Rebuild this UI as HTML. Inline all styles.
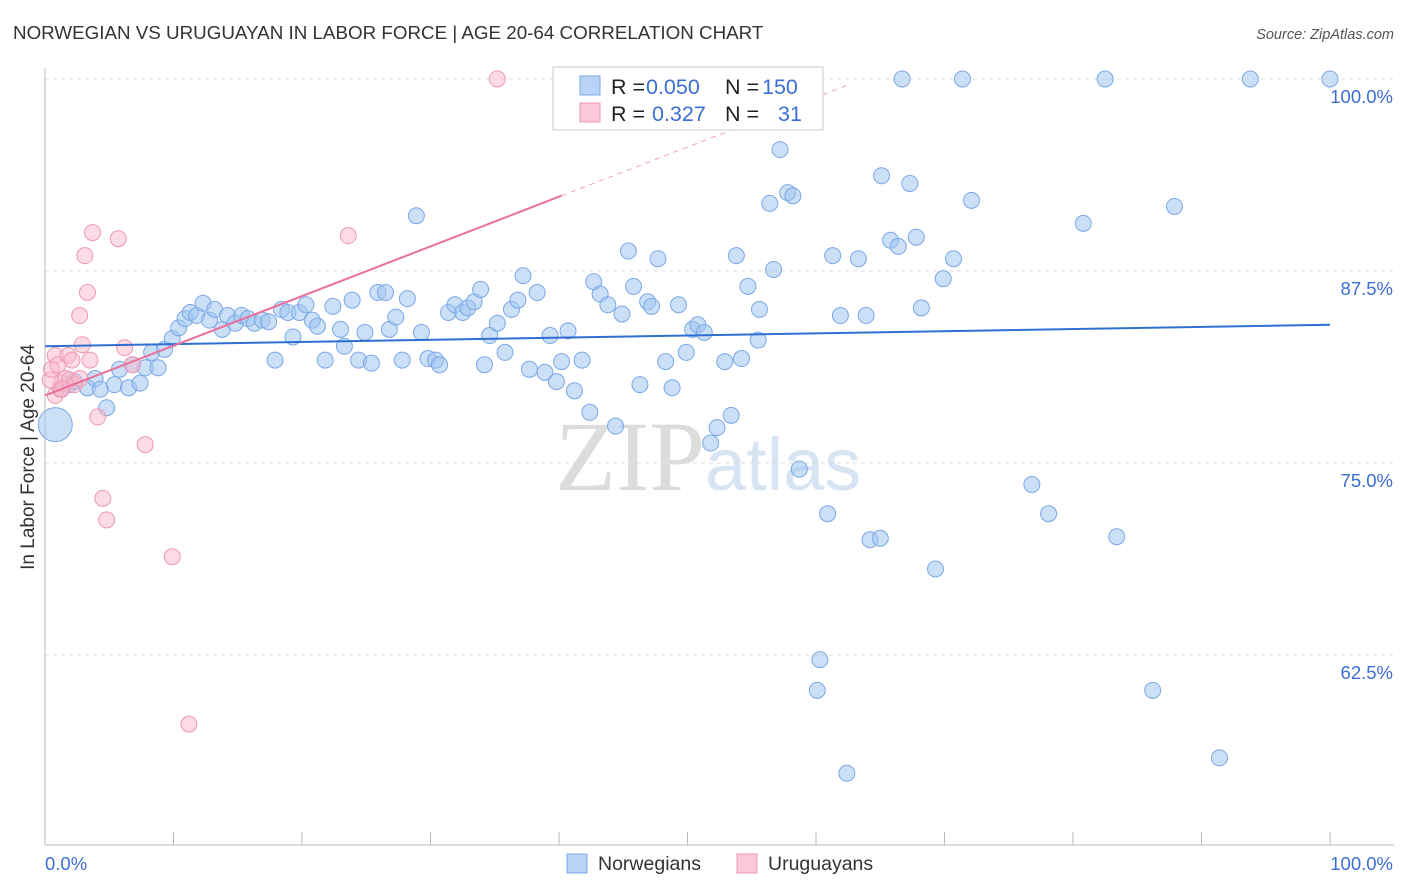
<!DOCTYPE html>
<html><head><meta charset="utf-8"><style>
body{margin:0;background:#fff;font-family:"Liberation Sans",sans-serif;}
svg{display:block}
</style></head><body>
<svg id="c" width="1406" height="892">
<text x="13" y="39" font-size="18.8" fill="#333">NORWEGIAN VS URUGUAYAN IN LABOR FORCE | AGE 20-64 CORRELATION CHART</text>
<text x="1394" y="39" font-size="14.5" fill="#555" font-style="italic" text-anchor="end">Source: ZipAtlas.com</text>
<text x="555" y="490" font-size="100" fill="#e0e0e0" font-family="Liberation Serif"><tspan fill="#dcdcdc">ZIP</tspan><tspan fill="#d6e4f3" font-family="Liberation Sans" font-size="74">atlas</tspan></text>
<text x="34" y="457" font-size="19" fill="#333" text-anchor="middle" transform="rotate(-90 34 457)">In Labor Force | Age 20-64</text>
<g id="grid"></g><g id="pts"></g><g id="lines"></g>
<g>
<rect x="553" y="67" width="270" height="63" fill="#fff" stroke="#ccc"/>
<rect x="580" y="76" width="20" height="19" fill="#b8d3f5" stroke="#7aa8e6"/>
<rect x="580" y="103" width="20" height="19" fill="#fbc8d7" stroke="#ee98b2"/>
<text y="94" font-size="21.5"><tspan x="611" fill="#222">R = </tspan><tspan x="646" fill="#3b6fd4">0.050</tspan><tspan x="725" fill="#222">N = </tspan><tspan x="762" fill="#3b6fd4">150</tspan></text>
<text y="121" font-size="21.5"><tspan x="611" fill="#222">R = </tspan><tspan x="652" fill="#3b6fd4">0.327</tspan><tspan x="725" fill="#222">N = </tspan><tspan x="778" fill="#3b6fd4">31</tspan></text>
</g>
<g>
<rect x="567" y="854" width="20" height="19" fill="#b8d3f5" stroke="#7aa8e6"/>
<text x="598" y="870" font-size="19.5" fill="#333">Norwegians</text>
<rect x="737" y="854" width="20" height="19" fill="#fbc8d7" stroke="#ee98b2"/>
<text x="768" y="870" font-size="19.5" fill="#333">Uruguayans</text>
</g>
</svg>
<script>
const yTicks=[100,87.5,75,62.5];
const yTickLabels=["100.0%","87.5%","75.0%","62.5%"];
const xTickLabels=["0.0%","100.0%"];
const blueX=[0.8,1.2,1.9,2.3,3.3,3.9,4.3,4.8,5.4,5.8,6.5,6.8,7.4,7.8,8.3,8.8,9.3,9.9,10.4,10.9,11.3,11.8,12.3,12.8,13.2,13.8,14.2,14.8,15.3,15.8,16.3,16.9,17.4,17.9,18.4,18.9,19.3,19.8,20.3,20.8,21.2,21.8,22.4,23.0,23.3,23.9,24.4,24.9,25.4,25.9,26.5,26.8,27.3,27.8,28.2,28.9,29.3,29.8,30.4,30.7,31.4,31.9,32.5,32.9,33.4,33.9,34.2,34.6,35.2,35.8,36.3,36.8,37.2,37.7,38.3,38.9,39.3,39.8,40.2,40.7,41.2,41.8,42.4,42.7,43.2,43.8,44.4,44.9,45.4,45.8,46.3,46.9,47.2,47.7,48.3,48.8,49.3,49.9,50.4,50.8,51.3,51.8,52.3,52.9,53.4,53.8,54.2,54.7,55.6,55.5,56.7,57.2,56.4,57.8,58.2,58.7,60.3,60.1,60.9,61.3,61.9,62.4,63.3,63.9,64.2,65.0,65.1,65.8,66.4,66.7,67.3,67.8,68.2,69.3,69.9,70.7,71.4,72.1,76.8,78.1,80.8,82.5,83.4,86.2,87.9,91.4,93.8,100];
const blueY=[77.5,79.8,80.1,80.3,79.9,80.5,79.8,78.6,80.1,81.1,79.9,81.4,80.2,81.2,82.2,81.2,82.4,83.1,83.8,84.4,84.8,84.6,85.4,84.3,85.0,83.7,84.6,84.1,84.6,84.4,84.1,84.3,84.2,81.7,85.0,84.8,83.2,84.8,85.3,84.3,83.9,81.7,85.2,83.7,82.6,85.6,81.7,83.5,81.5,86.1,86.1,83.7,84.5,81.7,85.7,91.1,83.5,81.8,81.7,81.4,84.8,85.3,84.8,85.1,85.5,86.3,81.4,83.3,84.1,82.2,85.0,85.6,87.2,81.1,86.1,80.9,83.3,80.3,81.6,83.6,79.7,81.7,78.3,86.8,86.0,85.3,77.4,84.7,88.8,86.5,80.1,85.5,85.2,88.3,81.6,79.9,85.3,82.2,83.7,84.0,83.5,76.3,77.3,81.6,78.1,88.5,81.8,86.5,85.0,83.0,87.6,95.4,91.9,92.6,92.4,74.6,62.2,60.2,71.7,88.5,84.6,54.8,88.3,84.6,70.0,70.1,93.7,89.5,89.1,100,93.2,89.7,85.1,68.1,87.0,88.3,100,92.1,73.6,71.7,90.6,100,70.2,60.2,91.7,55.8,100,100];
const pinkX=[35.2,0.8,1.2,1.3,1.6,1.9,0.4,0.5,0.8,1.0,1.8,2.1,2.3,2.7,2.9,3.1,3.3,3.5,3.7,4.1,4.5,4.8,5.7,6.2,6.8,7.8,9.9,11.2,23.6,2.7,1.3];
const pinkY=[100,79.4,79.8,80.2,80.5,80.4,80.4,81.1,82.0,81.4,82.0,81.7,80.1,80.5,82.7,88.5,86.1,81.7,90.0,78.0,72.7,71.3,89.6,82.5,81.4,76.2,68.9,58.0,89.8,84.6,79.8];
const blueTrend=[82.6,84.0];
const pinkTrend=[79.4,92.4];
const NS="http://www.w3.org/2000/svg";
const X0=45,X1=1330,Y100=79,PXPER=15.36;
const sx=v=>X0+(X1-X0)*v/100;
const sy=v=>Y100+(100-v)*PXPER;
function mk(tag,attrs,parent){const e=document.createElementNS(NS,tag);for(const k in attrs)e.setAttribute(k,attrs[k]);parent.appendChild(e);return e;}
const grid=document.getElementById('grid'),pts=document.getElementById('pts'),lines=document.getElementById('lines');
yTicks.forEach((t,i)=>{
 const l=mk('line',{x1:45,x2:1394,y1:sy(t),y2:sy(t),stroke:'#ddd','stroke-dasharray':'4,4'},grid);
 
 
 const tx=mk('text',{x:1393,y:sy(t)+24,'font-size':18.5,fill:'#3b6fd4','text-anchor':'end'},grid);
 tx.textContent=yTickLabels[i];
 
 
});
const ax=mk('line',{x1:45,x2:45,y1:68,y2:845,stroke:'#bbb'},grid);


const bx=mk('line',{x1:45,x2:1394,y1:845,y2:845,stroke:'#bbb'},grid);


for(let i=0;i<=10;i++){
 const t=mk('line',{x1:sx(i*10),x2:sx(i*10),y1:832,y2:845,stroke:'#bbb'},grid);
 
 
}
[[0,'start',45],[100,'end',1393]].forEach((a,i)=>{
 const t=mk('text',{x:a[2],y:870,'font-size':18.5,fill:'#3b6fd4','text-anchor':a[1]},grid);
 t.textContent=xTickLabels[i];
 
 
});
blueX.forEach((x,i)=>{
 const big=i===0;
 const c=mk('circle',{cx:sx(x),cy:sy(blueY[i]),r:big?17:8,fill:'rgba(160,196,240,0.55)',stroke:'#7aa8e6','stroke-width':1},pts);
 
 
});
pinkX.forEach((x,i)=>{
 const c=mk('circle',{cx:sx(x),cy:sy(pinkY[i]),r:8,fill:'rgba(249,184,204,0.5)',stroke:'#ee98b2','stroke-width':1},pts);
 
 
});
const bl=mk('line',{x1:sx(0),y1:sy(blueTrend[0]),x2:sx(100),y2:sy(blueTrend[1]),stroke:'#2f6fd0','stroke-width':2},lines);


const pf=x=>pinkTrend[0]+(pinkTrend[1]-pinkTrend[0])*x/40.2;
const pl=mk('line',{x1:sx(0),y1:sy(pf(0)),x2:sx(40.2),y2:sy(pf(40.2)),stroke:'#e8709a','stroke-width':2},lines);


const pd=mk('line',{x1:sx(40.2),y1:sy(pf(40.2)),x2:sx(62.6),y2:sy(pf(62.6)),stroke:'#eba0b8','stroke-width':1,'stroke-dasharray':'5,5'},lines);


</script>
</body></html>
